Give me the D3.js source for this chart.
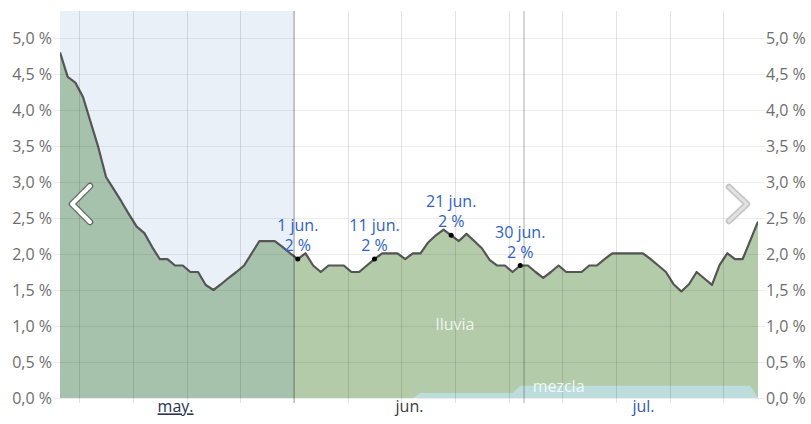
<!DOCTYPE html>
<html>
<head>
<meta charset="utf-8">
<script src="https://cdn.jsdelivr.net/npm/d3@7/dist/d3.min.js"></script>
<style>
  html, body { margin: 0; padding: 0; background: #fff; }
  svg { display: block; font-family: "Open Sans", "Noto Sans", sans-serif; }
</style>
</head>
<body>
<svg id="chart" width="811" height="424"></svg>
<script>
// ---------- DATA ----------
const startDate = "2024-05-01T12:00:00Z"; // first daily sample (noon)
const lluvia = [
  4.80, 4.46, 4.38, 4.18, 3.83, 3.48, 3.07, 2.90, 2.73, 2.55,
  2.38, 2.29, 2.10, 1.93, 1.93, 1.84, 1.84, 1.75, 1.75, 1.57,
  1.50, 1.58, 1.67, 1.75, 1.84, 2.01, 2.18, 2.18, 2.18, 2.10,
  2.01, 1.93, 2.01, 1.84, 1.75, 1.84, 1.84, 1.84, 1.75, 1.75,
  1.84, 1.93, 2.01, 2.01, 2.01, 1.93, 2.01, 2.01, 2.16, 2.26,
  2.34, 2.26, 2.18, 2.28, 2.18, 2.08, 1.92, 1.84, 1.84, 1.75,
  1.84, 1.84, 1.75, 1.67, 1.75, 1.84, 1.75, 1.75, 1.75, 1.84,
  1.84, 1.93, 2.01, 2.01, 2.01, 2.01, 2.01, 1.93, 1.84, 1.75,
  1.58, 1.48, 1.58, 1.75, 1.66, 1.57, 1.85, 2.01, 1.93, 1.93,
  2.19, 2.45
];
const mezcla = [
  0, 0, 0, 0, 0, 0, 0, 0, 0, 0,
  0, 0, 0, 0, 0, 0, 0, 0, 0, 0,
  0, 0, 0, 0, 0, 0, 0, 0, 0, 0,
  0, 0, 0, 0, 0, 0, 0, 0, 0, 0,
  0, 0, 0, 0, 0, 0, 0, 0.07, 0.07, 0.07,
  0.07, 0.07, 0.07, 0.07, 0.07, 0.07, 0.07, 0.07, 0.07, 0.07,
  0.17, 0.17, 0.17, 0.17, 0.17, 0.17, 0.17, 0.17, 0.17, 0.17,
  0.17, 0.17, 0.17, 0.17, 0.17, 0.17, 0.17, 0.17, 0.17, 0.17,
  0.17, 0.17, 0.17, 0.17, 0.17, 0.17, 0.17, 0.17, 0.17, 0.17,
  0.17, 0
];
const yTickValues = [0, 0.5, 1, 1.5, 2, 2.5, 3, 3.5, 4, 4.5, 5];
const yTickLabels = ["0,0 %", "0,5 %", "1,0 %", "1,5 %", "2,0 %", "2,5 %", "3,0 %", "3,5 %", "4,0 %", "4,5 %", "5,0 %"];
const monthNames = ["may.", "jun.", "jul."];
const monthStarts = ["2024-05-01", "2024-06-01", "2024-07-01", "2024-08-01"];
const annotDates = ["2024-06-01T12:00:00Z", "2024-06-11T12:00:00Z", "2024-06-21T12:00:00Z", "2024-06-30T12:00:00Z"];
const annotLabels = ["1 jun.", "11 jun.", "21 jun.", "30 jun."];
const pastEnd = "2024-06-01T00:00:00Z";

// ---------- LAYOUT ----------
const L = 60, R = 758, T = 11, B = 398;
const svg = d3.select("#chart");

const t0 = new Date(startDate);
const dates = lluvia.map((_, i) => d3.utcDay.offset(t0, i));
const data = dates.map((d, i) => ({ date: d, lluvia: lluvia[i], mezcla: mezcla[i] }));

const x = d3.scaleUtc().domain([dates[0], dates[dates.length - 1]]).range([L, R]);
const y = d3.scaleLinear().domain([0, 5]).range([B, 38]);

// clip
svg.append("defs").append("clipPath").attr("id", "plotclip")
  .append("rect").attr("x", L).attr("y", T).attr("width", R - L).attr("height", B - T);

const plot = svg.append("g").attr("clip-path", "url(#plotclip)");

// areas
const areaLluvia = d3.area().x(d => x(d.date)).y0(y(0)).y1(d => y(d.lluvia));
plot.append("path").datum(data).attr("d", areaLluvia).attr("fill", "#b3cba9");

const areaMezcla = d3.area().x(d => x(d.date)).y0(y(0)).y1(d => y(d.mezcla));
plot.append("path").datum(data).attr("d", areaMezcla).attr("fill", "#bcdddc");

// past overlay
const xPast = x(new Date(pastEnd));
plot.append("rect").attr("x", L).attr("y", T).attr("width", xPast - L).attr("height", B - T)
  .attr("fill", "rgba(70,130,200,0.12)");

// horizontal gridlines
svg.append("g").selectAll("line").data(yTickValues).join("line")
  .attr("x1", 53).attr("x2", 765)
  .attr("y1", d => Math.round(y(d)) + 0.5).attr("y2", d => Math.round(y(d)) + 0.5)
  .attr("stroke", "rgba(0,0,0,0.07)").attr("stroke-width", 1);

// weekly vertical gridlines (aligned on 1 jun.)
const pastEndDate = new Date(pastEnd);
const allDays = d3.utcDay.range(d3.utcDay.floor(dates[0]), d3.utcDay.offset(dates[dates.length - 1], 1));
const weekly = allDays.filter(d => {
  const diff = Math.round((d - pastEndDate) / 864e5);
  return ((diff % 7) + 7) % 7 === 0 && x(d) > L && x(d) < R;
});
svg.append("g").selectAll("line").data(weekly).join("line")
  .attr("x1", d => Math.round(x(d)) + 0.5).attr("x2", d => Math.round(x(d)) + 0.5)
  .attr("y1", T).attr("y2", B + 5)
  .attr("stroke", "rgba(0,0,0,0.115)").attr("stroke-width", 1);

// month boundary lines
const mStarts = monthStarts.map(s => new Date(s + "T00:00:00Z"));
svg.append("g").selectAll("line").data(mStarts.filter(d => x(d) > L && x(d) < R)).join("line")
  .attr("x1", d => x(d)).attr("x2", d => x(d))
  .attr("y1", T).attr("y2", B + 5)
  .attr("stroke", "rgba(0,0,0,0.2)").attr("stroke-width", 1.6);

// top line
const line = d3.line().x(d => x(d.date)).y(d => y(d.lluvia));
plot.append("path").datum(data).attr("d", line)
  .attr("fill", "none").attr("stroke", "#555").attr("stroke-width", 2.2)
  .attr("stroke-linejoin", "round");

// series labels
svg.append("text").attr("x", x(new Date("2024-06-22T00:00:00Z"))).attr("y", y(0.94))
  .attr("text-anchor", "middle").attr("fill", "rgba(255,255,255,0.82)")
  .attr("font-size", 16).text("lluvia");
svg.append("text").attr("x", x(new Date("2024-07-05T12:00:00Z"))).attr("y", y(0.09))
  .attr("text-anchor", "middle").attr("fill", "rgba(255,255,255,0.85)")
  .attr("font-size", 16).text("mezcla");

// annotations
const annots = annotDates.map((s, i) => {
  const d = new Date(s);
  const rec = data.find(r => +r.date === +d);
  return { date: d, value: rec.lluvia, label: annotLabels[i] };
});
const ag = svg.append("g").selectAll("g").data(annots).join("g")
  .attr("transform", d => `translate(${x(d.date)},${y(d.value)})`);
ag.append("circle").attr("r", 2.5).attr("fill", "#000");
ag.append("text").attr("y", -28).attr("text-anchor", "middle").attr("fill", "#2f62c6")
  .attr("font-size", 16).text(d => d.label);
ag.append("text").attr("y", -8).attr("text-anchor", "middle").attr("fill", "#2f62c6")
  .attr("font-size", 16).text(d => Math.round(d.value) + " %");

// y axes (left and right)
const fmt = v => yTickLabels[yTickValues.indexOf(v)];
const axL = svg.append("g").attr("transform", `translate(${53},0)`)
  .call(d3.axisLeft(y).tickValues(yTickValues).tickFormat(fmt).tickSize(0).tickPadding(1));
const axR = svg.append("g").attr("transform", `translate(${765},0)`)
  .call(d3.axisRight(y).tickValues(yTickValues).tickFormat(fmt).tickSize(0).tickPadding(1));
[axL, axR].forEach(a => {
  a.select(".domain").remove();
  a.selectAll("text").attr("font-size", 16).attr("fill", "#6e6e6e")
    .attr("font-family", "\"Open Sans\", sans-serif").attr("dy", "0.34em");
});

// month labels (centered on mid-month)
const monthMids = monthNames.map((m, i) => new Date((+mStarts[i] + +mStarts[i + 1]) / 2));
const xAxis = svg.append("g").attr("transform", `translate(0,${B})`)
  .call(d3.axisBottom(x).tickValues(monthMids).tickFormat((d, i) => monthNames[i]).tickSize(0).tickPadding(3));
xAxis.select(".domain").remove();
xAxis.selectAll("text").attr("font-size", 16).attr("font-family", "\"Open Sans\", sans-serif")
  .attr("dy", "0.71em")
  .attr("fill", (d, i) => ["#26324f", "#3a3a3a", "#3458a8"][i])
  .attr("text-decoration", (d, i) => i === 0 ? "underline" : null);

// navigation chevrons
const chevL = "M90,186 L72,204 L90,222";
svg.append("path").attr("d", chevL).attr("fill", "none").attr("stroke", "#555")
  .attr("stroke-width", 6.5).attr("stroke-linecap", "round").attr("stroke-linejoin", "round").attr("opacity", 0.85);
svg.append("path").attr("d", chevL).attr("fill", "none").attr("stroke", "#fff")
  .attr("stroke-width", 4).attr("stroke-linecap", "round").attr("stroke-linejoin", "round");
const chevR = "M729,187 L747,204 L729,221";
svg.append("path").attr("d", chevR).attr("fill", "none").attr("stroke", "#c6c6c6")
  .attr("stroke-width", 6.5).attr("stroke-linecap", "round").attr("stroke-linejoin", "round");
svg.append("path").attr("d", chevR).attr("fill", "none").attr("stroke", "#e2e2e2")
  .attr("stroke-width", 3).attr("stroke-linecap", "round").attr("stroke-linejoin", "round");
</script>
</body>
</html>
